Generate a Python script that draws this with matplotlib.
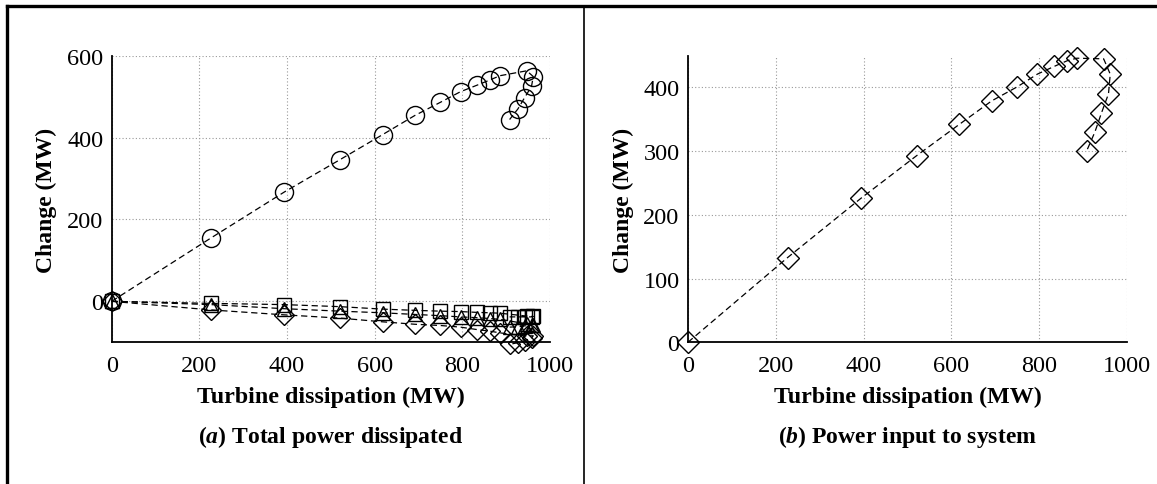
import matplotlib.pyplot as plt
from matplotlib.lines import Line2D

plt.rcParams['font.family'] = ['Liberation Serif', 'DejaVu Serif']
plt.rcParams['mathtext.fontset'] = 'custom'
plt.rcParams['mathtext.bfit'] = 'Liberation Serif:italic:bold'
plt.rcParams['mathtext.it'] = 'Liberation Serif:italic'
plt.rcParams['mathtext.rm'] = 'Liberation Serif'

# turbine dissipation (MW), the curve folds back at the end
turbine = [0, 227, 394, 521, 618, 692, 750, 796, 834, 864, 886,
           947, 962, 958, 942, 927, 908]

# panel (a): components of total dissipated power
circle_vals = [0, 155, 267, 346, 407, 454, 486, 512, 528, 541, 551,
               563, 549, 525, 497, 470, 444]
square_vals = [0, -5, -8, -13, -19, -22, -24, -25, -27, -28, -29,
               -36, -37, -38, -38, -38, -38]
triangle_vals = [0, -8, -18, -24, -28, -32, -35, -38, -40, -42, -44,
                 -55, -57, -58, -60, -62, -63]
diamond_vals = [0, -21, -33, -41, -50, -56, -59, -63, -69, -73, -77,
                -85, -84, -90, -96, -101, -105]

# panel (b): power input to system
input_vals = [0, 133, 226, 293, 342, 379, 401, 421, 433, 442, 446,
              445, 421, 390, 360, 330, 300]

fig = plt.figure(figsize=(11.57, 4.85), dpi=100, facecolor='white')
ax1 = fig.add_axes([0.0965, 0.2922, 0.3788, 0.591])
ax2 = fig.add_axes([0.5946, 0.2922, 0.3794, 0.591])

dash = (0, (5, 3))
kw = dict(color='black', lw=0.9, ls=dash, mfc='none', mec='black',
          mew=1.0, clip_on=False)

ax1.plot(turbine, triangle_vals, marker='^', ms=10, **kw)
ax1.plot(turbine, square_vals, marker='s', ms=10, **kw)
ax1.plot(turbine, diamond_vals, marker='D', ms=10, **kw)
ax1.plot(turbine, circle_vals, marker='o', ms=13, **kw)

ax2.plot(turbine, input_vals, marker='D', ms=11, **kw)

ax1.set_xlim(0, 1000)
ax1.set_ylim(-100, 600)
ax1.set_yticks([0, 200, 400, 600])
ax2.set_xlim(0, 1000)
ax2.set_ylim(0, 450)
ax2.set_yticks([0, 100, 200, 300, 400])

captions = [r'($\mathbfit{a}$) Total power dissipated',
            r'($\mathbfit{b}$) Power input to system']

for ax, cap in zip([ax1, ax2], captions):
    ax.set_xticks([0, 200, 400, 600, 800, 1000])
    ax.grid(True, ls=(0, (1, 2)), color='#999999', lw=0.8)
    ax.set_axisbelow(True)
    ax.spines['top'].set_visible(False)
    ax.spines['right'].set_visible(False)
    ax.spines['left'].set_linewidth(1.3)
    ax.spines['bottom'].set_linewidth(1.3)
    ax.tick_params(length=0, labelsize=17.5)
    ax.tick_params(axis='x', pad=9)
    ax.tick_params(axis='y', pad=6)
    ax.set_xlabel('Turbine dissipation (MW)', fontsize=17.3, fontweight='bold', labelpad=7)
    ax.set_ylabel('Change (MW)', fontsize=17, fontweight='bold', labelpad=7)
    pos = ax.get_position()
    fig.text(pos.x0 + pos.width / 2, 1 - 437 / 485, cap, ha='center', va='center',
             fontsize=17, fontweight='bold')

# panel frame
fig.add_artist(Line2D([0.006, 1.0], [1 - 6.7 / 485] * 2, transform=fig.transFigure,
                      color='black', lw=2.4))
fig.add_artist(Line2D([7 / 1157] * 2, [0, 1 - 6.7 / 485], transform=fig.transFigure,
                      color='black', lw=2.4))
fig.add_artist(Line2D([584.3 / 1157] * 2, [0, 1 - 6.7 / 485], transform=fig.transFigure,
                      color='black', lw=1.2))

plt.savefig('out.png', dpi=100, facecolor='white')
